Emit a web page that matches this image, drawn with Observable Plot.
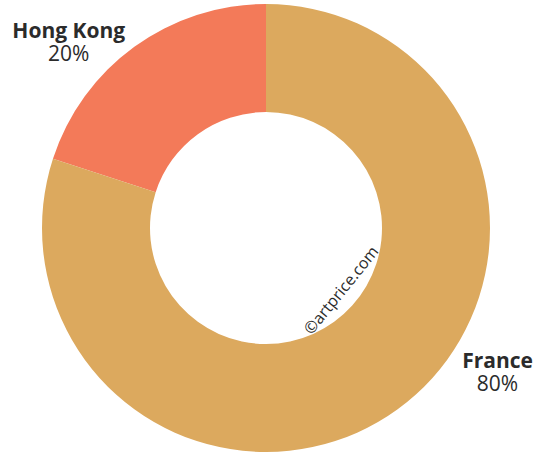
<!DOCTYPE html>
<html>
<head>
<meta charset="utf-8">
<script src="https://cdn.jsdelivr.net/npm/d3@7"></script>
<script src="https://cdn.jsdelivr.net/npm/@observablehq/plot@0.6"></script>
<style>
  html, body { margin: 0; padding: 0; background: #fff; }
  svg { display: block; }
</style>
</head>
<body>
<div id="chart"></div>
<script>
const categories = ["Hong Kong", "France"];
const shares = [20, 80];
const colors = ["#F37A59", "#DCA95E"];
const watermark = "©artprice.com";

const W = 534, H = 454;
const cx = 266, cy = 228, outerR = 224, innerR = 116;

const data = categories.map((c, i) => ({category: c, value: shares[i], color: colors[i]}));
const pie = d3.pie().value(d => d.value).sort(null)
  .startAngle(-2 * Math.PI * shares[0] / 100)
  .endAngle(2 * Math.PI - 2 * Math.PI * shares[0] / 100);
const arcs = pie(data);

// label layout: mid angle pulled toward horizontal, placed outside the ring
const labels = arcs.map(a => {
  const mid = (a.startAngle + a.endAngle) / 2;
  const right = Math.sin(mid) >= 0;
  const horiz = right ? Math.PI / 2 : -Math.PI / 2;
  const pull = right ? 0.41 : 0.197;
  const ang = mid + (horiz - mid) * pull;
  const r = 272;
  return {
    label: a.data.category + "\n" + a.data.value + "%",
    x: cx + r * Math.sin(ang),
    y: cy - r * Math.cos(ang)
  };
});

const ringMark = (index, scales, values, dimensions, context) => {
  const g = d3.create("svg:g");
  const X = scales.x(cx), Y = scales.y(cy);
  const arcGen = d3.arc()
    .innerRadius(scales.x(cx + innerR) - X)
    .outerRadius(scales.x(cx + outerR) - X);
  g.selectAll("path").data(arcs).join("path")
    .attr("transform", `translate(${X},${Y})`)
    .attr("d", arcGen)
    .attr("fill", d => d.data.color);
  return g.node();
};

const chart = Plot.plot({
  width: W, height: H, margin: 0,
  x: {domain: [0, W], range: [0, W], axis: null},
  y: {domain: [0, H], range: [0, H], axis: null},
  style: {fontFamily: "'Open Sans', sans-serif", background: "#fff"},
  marks: [
    ringMark,
    Plot.text(labels, {x: "x", y: "y", text: "label", lineHeight: 1.1, fontSize: 21, fill: "#2b2b2b", className: "slice-label"}),
    Plot.text([watermark], {x: [cx + 75], y: [cy + 62], text: d => d, rotate: -51, fontSize: 16, fill: "#2b2b2b"})
  ]
});
// first line (category name) in bold
d3.select(chart).selectAll(".slice-label text").each(function() {
  d3.select(this).select("tspan").attr("font-weight", "bold");
});
document.getElementById("chart").append(chart);
</script>
</body>
</html>
